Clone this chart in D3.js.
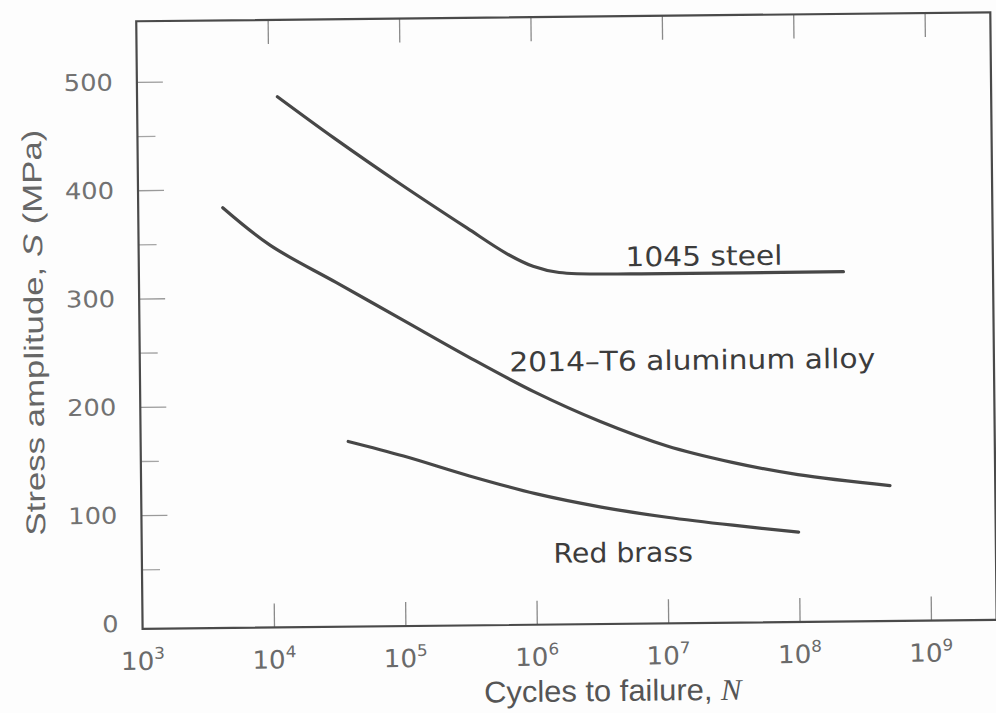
<!DOCTYPE html>
<html><head><meta charset="utf-8">
<script src="https://cdn.jsdelivr.net/npm/d3@7"></script>
<style>html,body{margin:0;padding:0;background:#fff;} svg{display:block;}</style>
</head><body>
<script>
// ---- data ----
const steelN = [11700, 31600, 100000, 316000, 631000, 1.0e6, 1.58e6, 1.0e7, 2.3e8];
const steelS = [485, 446, 403, 362, 338, 326, 320, 318, 318];
const alN = [4400, 1e4, 31600, 1e5, 316000, 1e6, 3.16e6, 1e7, 3.16e7, 1e8, 5e8];
const alS = [383, 348, 313, 278, 243, 210, 182, 159, 143, 131, 120];
const brassN = [38000, 1e5, 316000, 1e6, 3.16e6, 1e7, 3.16e7, 1e8];
const brassS = [166, 152, 133, 116, 103, 93, 85, 78];
const seriesNames = ["1045 steel", "2014\u2013T6 aluminum alloy", "Red brass"];
const labelN = [2.0e7, 1.6e7, 4.6e6];
const labelS = [325, 229, 52];
const xTickExp = [3, 4, 5, 6, 7, 8, 9];
const yTicks = [0, 100, 200, 300, 400, 500];
const yMinorTicks = [50, 150, 250, 350, 450];
const xTitle = "Cycles to failure, ";
const yTitle = ["Stress amplitude, ", "S", " (MPa)"];

const W = 996, H = 713;
const svg = d3.select("body").append("svg").attr("width", W).attr("height", H);
svg.append("rect").attr("width", W).attr("height", H).attr("fill", "#fdfdfd");
const g = svg.append("g").attr("transform", "rotate(-0.6,566,321)");

const x = d3.scaleLog().domain([1e3, Math.pow(10, 9.5)]).range([139.4, 993.5]);
const y = d3.scaleLinear().domain([-5, 556]).range([624.4, 16.8]);
const [x0, x1] = x.range(), [yb, yt] = y.range();

// ticks via axes
const xt = xTickExp.slice(1).map(e => Math.pow(10, e));
const axB = g.append("g").attr("transform", `translate(0,${yb})`)
  .call(d3.axisBottom(x).tickValues(xt).tickSize(-24).tickFormat(""));
const axT = g.append("g").attr("transform", `translate(0,${yt})`)
  .call(d3.axisTop(x).tickValues(xt).tickSize(-24).tickFormat(""));
const axL = g.append("g").attr("transform", `translate(${x0},0)`)
  .call(d3.axisLeft(y).tickValues(yTicks.slice(1)).tickSize(-26).tickFormat(""));
const axLm = g.append("g").attr("transform", `translate(${x0},0)`)
  .call(d3.axisLeft(y).tickValues(yMinorTicks).tickSize(-18).tickFormat(""));
[axB, axT, axL, axLm].forEach(a => {
  a.select(".domain").remove();
  a.selectAll("line").attr("stroke", "#8a8a8a").attr("stroke-width", 1.3);
});
axL.selectAll("line").attr("stroke", "#9a9a9a");
axLm.selectAll("line").attr("stroke", "#a5a5a5");

// frame
g.append("rect").attr("x", x0).attr("y", yt).attr("width", x1 - x0).attr("height", yb - yt)
  .attr("fill", "none").attr("stroke", "#4a4a4a").attr("stroke-width", 2.2);

// y tick labels
g.selectAll(".ylab").data(yTicks).enter().append("text")
  .attr("transform", d => `translate(${x0 - 24},${y(d)}) scale(1.12,1)`)
  .attr("text-anchor", "end").attr("dy", "0.36em")
  .attr("font-family", "DejaVu Sans").attr("font-size", 23)
  .attr("fill", "#727272").text(d => d);

// x tick labels 10^n
const xl = g.selectAll(".xlab").data(xTickExp).enter().append("text")
  .attr("transform", d => `translate(${x(Math.pow(10, d))},${yb + 41}) scale(1.05,1)`)
  .attr("text-anchor", "middle")
  .attr("font-family", "DejaVu Sans").attr("font-size", 25).attr("fill", "#6a6a6a");
xl.append("tspan").text("10");
xl.append("tspan").attr("dy", -11).attr("font-size", 16).text(d => d);

// curves
const line = d3.line().x(d => x(d[0])).y(d => y(d[1])).curve(d3.curveCatmullRom.alpha(0.5));
const series = [d3.zip(steelN, steelS), d3.zip(alN, alS), d3.zip(brassN, brassS)];
g.selectAll(".curve").data(series).enter().append("path")
  .attr("d", line).attr("fill", "none").attr("stroke", "#474747")
  .attr("stroke-width", 3.2).attr("stroke-linecap", "round");

// curve labels
g.selectAll(".clab").data(seriesNames).enter().append("text")
  .attr("transform", (d, i) => `translate(${x(labelN[i])},${y(labelS[i])}) scale(${i === 2 ? 1.05 : 1.1},1)`)
  .attr("text-anchor", "middle")
  .attr("font-family", "DejaVu Sans").attr("font-size", 27).attr("fill", "#3c3c3c")
  .text(d => d);

// x title
const xtt = g.append("text").attr("transform", `translate(609,701.5) scale(1.03,1)`)
  .attr("text-anchor", "middle").attr("font-family", "Liberation Sans")
  .attr("font-size", 30).attr("fill", "#555");
xtt.append("tspan").text(xTitle);
xtt.append("tspan").attr("font-family", "Liberation Serif").attr("font-style", "italic").text("N");

// y title
const ytt = g.append("text").attr("transform", `translate(43,327) rotate(-90) scale(1.16,0.9)`)
  .attr("text-anchor", "middle").attr("font-family", "Liberation Sans")
  .attr("font-size", 30).attr("fill", "#666");
ytt.append("tspan").text(yTitle[0]);
ytt.append("tspan").attr("font-style", "italic").text(yTitle[1]);
ytt.append("tspan").text(yTitle[2]);
</script>
</body></html>
